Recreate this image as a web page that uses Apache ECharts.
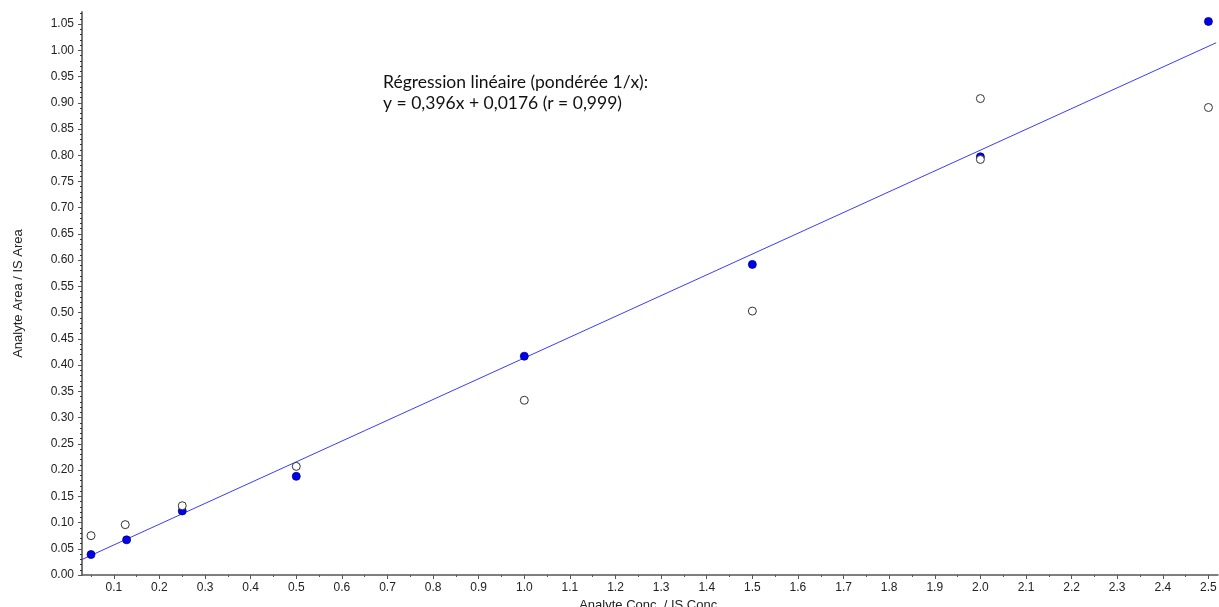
<!DOCTYPE html>
<html>
<head>
<meta charset="utf-8">
<script src="https://cdn.jsdelivr.net/npm/echarts@6/dist/echarts.min.js"></script>
<style>html,body{margin:0;padding:0;background:#fff}#c{width:1219px;height:607px}</style>
</head>
<body>
<div id="c"></div>
<script>
// Filled (blue) points
const filledX = [0.05, 0.128, 0.25, 0.5, 1.0, 1.5, 2.0, 2.5];
const filledY = [0.039, 0.067, 0.122, 0.188, 0.417, 0.592, 0.797, 1.055];
// Open (white) points
const openX = [0.05, 0.125, 0.25, 0.5, 1.0, 1.5, 2.0, 2.0, 2.5];
const openY = [0.075, 0.096, 0.132, 0.207, 0.333, 0.503, 0.908, 0.792, 0.891];
// Regression line endpoints
const lineX = [0.0302, 2.517];
const lineY = [0.0296, 1.0144];
// Tick labels
const xTickLabels = ['0.1','0.2','0.3','0.4','0.5','0.6','0.7','0.8','0.9','1.0','1.1','1.2','1.3','1.4','1.5','1.6','1.7','1.8','1.9','2.0','2.1','2.2','2.3','2.4','2.5'];
const yTickLabels = ['0.00','0.05','0.10','0.15','0.20','0.25','0.30','0.35','0.40','0.45','0.50','0.55','0.60','0.65','0.70','0.75','0.80','0.85','0.90','0.95','1.00','1.05'];
const xMinorTicks = ['0.05','0.15','0.25','0.35','0.45','0.55','0.65','0.75','0.85','0.95','1.05','1.15','1.25','1.35','1.45','1.55','1.65','1.75','1.85','1.95','2.05','2.15','2.25','2.35','2.45'];
const yMinorTicks = [];
for (let i = 1; i <= 107; i++) { if (i % 5 !== 0) yMinorTicks.push(+(i / 100).toFixed(2)); }

const xMin = 0.0302, xMax = 2.521, yMin = 0, yMax = 1.073;
const axisColor = '#555';
const labelFont = { fontFamily: 'Liberation Sans, Arial, sans-serif', fontSize: 12, color: '#222' };

const chart = echarts.init(document.getElementById('c'), null, { renderer: 'canvas' });
chart.setOption({
  animation: false,
  backgroundColor: '#fff',
  grid: { left: 82, right: 1, top: 12, bottom: 32, containLabel: false, outerBoundsMode: 'none' },
  xAxis: [
    {
      type: 'value', min: xMin, max: xMax,
      name: 'Analyte Conc. / IS Conc.', nameLocation: 'middle', nameGap: 20,
      nameTextStyle: { fontFamily: 'Liberation Sans, Arial, sans-serif', fontSize: 13, color: '#222' },
      axisLine: { show: true, onZero: false, lineStyle: { color: axisColor, width: 1.5 } },
      axisTick: { show: true, length: 4, inside: false, customValues: xTickLabels.map(Number), lineStyle: { color: axisColor } },
      axisLabel: Object.assign({ show: true, margin: 7, customValues: xTickLabels.map(Number), formatter: v => v.toFixed(1) }, labelFont),
      splitLine: { show: false }
    },
    {
      type: 'value', min: xMin, max: xMax, position: 'bottom', gridIndex: 0,
      axisLine: { show: false, onZero: false },
      axisTick: { show: true, length: 2, customValues: xMinorTicks.map(Number), lineStyle: { color: axisColor } },
      axisLabel: { show: false },
      splitLine: { show: false }
    }
  ],
  yAxis: [
    {
      type: 'value', min: yMin, max: yMax,
      name: 'Analyte Area / IS Area', nameLocation: 'middle', nameGap: 57, nameRotate: 90,
      nameTextStyle: { fontFamily: 'Liberation Sans, Arial, sans-serif', fontSize: 13, color: '#222' },
      axisLine: { show: true, onZero: false, lineStyle: { color: '#777', width: 2 } },
      axisTick: { show: true, length: 4, customValues: yTickLabels.map(Number), lineStyle: { color: axisColor } },
      axisLabel: Object.assign({ show: true, margin: 8, customValues: yTickLabels.map(Number), formatter: v => v.toFixed(2) }, labelFont),
      splitLine: { show: false }
    },
    {
      type: 'value', min: yMin, max: yMax, position: 'left', gridIndex: 0,
      axisLine: { show: false, onZero: false },
      axisTick: { show: true, length: 2, customValues: yMinorTicks, lineStyle: { color: '#333' } },
      axisLabel: { show: false },
      splitLine: { show: false }
    }
  ],
  graphic: [
    {
      type: 'text', left: 383, top: 72,
      style: {
        text: 'Régression linéaire (pondérée 1/x):\ny = 0,396x + 0,0176 (r = 0,999)',
        font: '17.5px Lato, "Open Sans", sans-serif', fill: '#111', lineHeight: 21
      }
    }
  ],
  series: [
    {
      type: 'line', xAxisIndex: 0, yAxisIndex: 0,
      data: lineX.map((x, i) => [x, lineY[i]]),
      showSymbol: false, symbol: 'none',
      lineStyle: { color: '#3b3bff', width: 1 }, z: 2
    },
    {
      type: 'scatter', xAxisIndex: 0, yAxisIndex: 0,
      data: filledX.map((x, i) => [x, filledY[i]]),
      symbol: 'circle', symbolSize: 8,
      itemStyle: { color: '#0000ee', borderColor: '#000080', borderWidth: 0.8, opacity: 1 }, z: 3
    },
    {
      type: 'scatter', xAxisIndex: 0, yAxisIndex: 0,
      data: openX.map((x, i) => [x, openY[i]]),
      symbol: 'circle', symbolSize: 8,
      itemStyle: { color: '#ffffff', borderColor: '#333', borderWidth: 1, opacity: 1 }, z: 4
    }
  ]
});
</script>
</body>
</html>
